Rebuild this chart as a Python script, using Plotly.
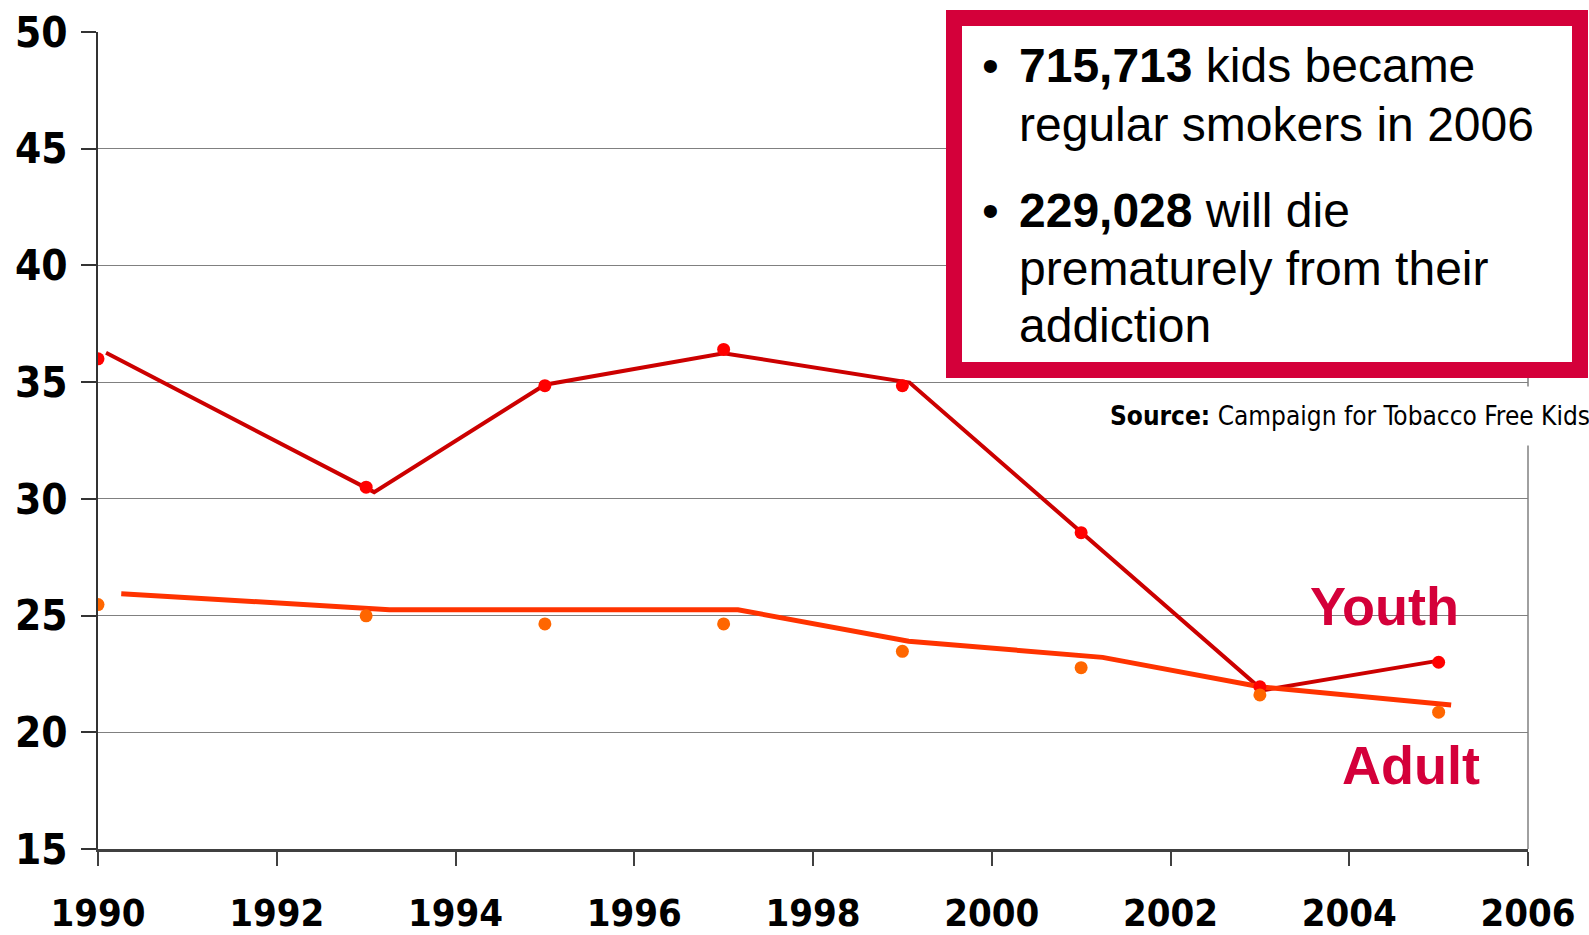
import plotly.graph_objects as go

# ---- data ----
years = [1990, 1993, 1995, 1997, 1999, 2001, 2003, 2005]
youth_pts = [36.0, 30.5, 34.85, 36.4, 34.85, 28.55, 21.95, 23.0]
adult_pts = [25.47, 24.99, 24.64, 24.64, 23.47, 22.77, 21.6, 20.86]

youth_line_x = [1990.09, 1993.09, 1995.0, 1997.0, 1999.08, 2001.0, 2003.03, 2005.02]
youth_line_y = [36.26, 30.29, 34.89, 36.24, 34.98, 28.55, 21.8, 23.08]
adult_line_x = [1990.26, 1993.26, 1997.16, 1999.07, 2001.24, 2003.0, 2005.14]
adult_line_y = [25.94, 25.25, 25.25, 23.9, 23.21, 21.95, 21.17]

x_ticks = [1990, 1992, 1994, 1996, 1998, 2000, 2002, 2004, 2006]
y_ticks = [15, 20, 25, 30, 35, 40, 45, 50]

W, H = 1589, 935
ML, MR, MT, MB = 98, 61, 32, 86
PW, PH = W - ML - MR, H - MT - MB


def px(x):
    return (x - ML) / PW


def py(y):
    return (H - MB - y) / PH


CRIMSON = "#D4003A"
NARROW = "DejaVu Sans Condensed, Liberation Sans Narrow, Liberation Sans, Arial"
SANS = "Liberation Sans, Arial, sans-serif"

fig = go.Figure()
fig.add_trace(go.Scatter(x=youth_line_x, y=youth_line_y, mode="lines",
                         line=dict(color="#CC0000", width=4), showlegend=False))
fig.add_trace(go.Scatter(x=adult_line_x, y=adult_line_y, mode="lines",
                         line=dict(color="#FF3300", width=5), showlegend=False))
fig.add_trace(go.Scatter(x=years, y=youth_pts, mode="markers",
                         marker=dict(color="#FF0000", size=13), showlegend=False))
fig.add_trace(go.Scatter(x=years, y=adult_pts, mode="markers",
                         marker=dict(color="#FF6600", size=13), showlegend=False))

shapes = [
    dict(type="line", xref="paper", yref="paper", x0=1, x1=1, y0=0, y1=1,
         line=dict(color="#808080", width=1.5), layer="below"),
    dict(type="rect", xref="paper", yref="paper",
         x0=px(954), x1=px(1580), y0=py(18), y1=py(370),
         line=dict(color=CRIMSON, width=16), fillcolor="white", layer="above"),
]

ann = []
TX = px(1017)
BX = px(990)
lines = [
    ("<b>715,713</b> kids became", 66),
    ("regular smokers in 2006", 124),
    ("<b>229,028</b> will die", 211),
    ("prematurely from their", 268),
    ("addiction", 325),
]
for txt, yy in lines:
    ann.append(dict(x=TX, y=py(yy), xref="paper", yref="paper", text=txt,
                    showarrow=False, xanchor="left", yanchor="middle",
                    font=dict(family=SANS, size=48, color="black")))
for yy in (66, 211):
    ann.append(dict(x=BX, y=py(yy), xref="paper", yref="paper", text="•",
                    showarrow=False, xanchor="center", yanchor="middle",
                    font=dict(family=SANS, size=48, color="black")))

ann.append(dict(x=px(1589 + 16), y=py(416), xref="paper", yref="paper",
                text="<b>Source:</b> Campaign for Tobacco Free Kids",
                showarrow=False, xanchor="right", yanchor="middle",
                bgcolor="white", borderpad=14,
                font=dict(family=NARROW, size=26, color="black")))
ann.append(dict(x=px(1384), y=py(606), xref="paper", yref="paper", text="<b>Youth</b>",
                showarrow=False, xanchor="center", yanchor="middle",
                font=dict(family=SANS, size=54, color=CRIMSON)))
ann.append(dict(x=px(1411), y=py(765), xref="paper", yref="paper", text="<b>Adult</b>",
                showarrow=False, xanchor="center", yanchor="middle",
                font=dict(family=SANS, size=54, color=CRIMSON)))

fig.update_layout(
    width=W, height=H,
    margin=dict(l=ML, r=MR, t=MT, b=MB, pad=0, autoexpand=False),
    paper_bgcolor="white", plot_bgcolor="white",
    shapes=shapes, annotations=ann,
    xaxis=dict(range=[1990, 2006], tickvals=x_ticks,
               ticktext=[f"<b>{v}</b>" for v in x_ticks],
               showgrid=False, zeroline=False, automargin=False,
               showline=True, linecolor="#404040", linewidth=3,
               ticks="outside", ticklen=14, tickcolor="#404040", tickwidth=1.5,
               tickfont=dict(family=NARROW, size=38, color="black"),
               ticklabelstandoff=14),
    yaxis=dict(range=[15, 50], tickvals=y_ticks,
               ticktext=[f"<b>{v}</b>" for v in y_ticks],
               showgrid=True, gridcolor="#808080", gridwidth=1.2,
               zeroline=False, automargin=False,
               showline=True, linecolor="#333333", linewidth=2,
               ticks="outside", ticklen=15, tickcolor="#333333", tickwidth=1.5,
               tickfont=dict(family=NARROW, size=42, color="black"),
               ticklabelstandoff=5),
)

fig.write_html("out.html")
